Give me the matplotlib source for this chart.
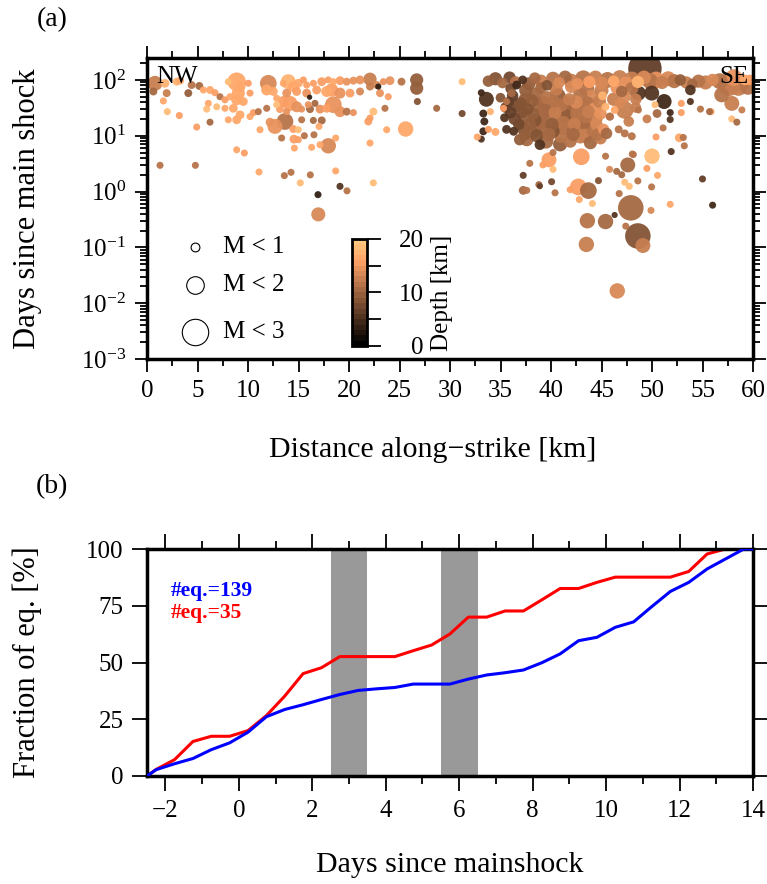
import numpy as np
import matplotlib
matplotlib.use('Agg')
import matplotlib.pyplot as plt
from matplotlib.colors import ListedColormap, Normalize
from matplotlib.cm import ScalarMappable
from matplotlib.ticker import MultipleLocator, LogLocator, NullFormatter

plt.rcParams['font.family'] = ['Liberation Serif', 'DejaVu Serif']
plt.rcParams['mathtext.fontset'] = 'custom'
plt.rcParams['mathtext.rm'] = 'Liberation Serif'
plt.rcParams['mathtext.it'] = 'Liberation Serif:italic'

#--------------------------------------------------------------------------#
# (a) events: distance [km], days, depth [km], magnitude
#--------------------------------------------------------------------------#
nw_dist = [0.79, 1.78, 0.63, 1.95, 2.94, 3.27, 4.42, 5.18, 4.09, 1.62,
           2.01, 3.2, 4.92, 6.24, 6.07, 5.91, 6.9, 5.58, 6.24, 6.73,
           7.23, 8.05, 8.88, 9.04, 8.88, 8.55, 8.88, 8.22, 8.05, 9.21,
           9.54, 10.03, 10.2, 9.21, 7.72, 7.72, 10.2, 10.53, 11.02, 11.85,
           12.01, 11.85, 12.51, 12.84, 12.84, 13.5, 13.99, 14.49, 14.98, 15.48,
           15.81, 16.47, 17.3, 17.95, 18.45, 19.11, 19.77, 20.43, 21.09, 22.08,
           22.74, 23.4, 24.06, 25.2, 26.7, 26.7, 26.77, 13.83, 14.82, 15.81,
           16.8, 17.79, 18.28, 19.11, 20.1, 21.09, 22.08, 23.07, 23.89, 13.5,
           14.16, 14.82, 13.17, 13.83, 15.31, 16.14, 16.63, 17.13, 17.79, 18.45,
           19.11, 19.77, 20.43, 22.41, 22.08, 21.91, 23.56, 28.68, 15.97, 13.66,
           12.67, 12.18, 15.31, 16.47, 17.3, 17.03, 14.49, 14.98, 11.19, 15.58,
           16.53, 13.33, 14.55, 14.98, 14.59, 16.3, 17.13, 17.95, 18.68, 22.08,
           23.73, 25.61, 8.88, 9.64, 1.29, 4.79, 11.09, 13.6, 14.26, 16.17,
           18.68, 15.18, 19.11, 19.8, 16.93, 22.41, 16.96, 31.2, 31.2, 22.9,
           16.1]
nw_days = [87, 87, 62, 58, 93, 97, 81, 78, 58, 42,
           27, 23, 14.3, 17.5, 38, 30, 33, 66, 66, 59,
           50, 93, 93, 58, 44, 31, 19.3, 50, 19.3, 76,
           41, 87, 58, 23.7, 31, 44, 22, 26, 27, 31,
           87, 66, 62, 47, 36, 87, 93, 76, 87, 100,
           81, 87, 93, 100, 93, 97, 93, 97, 100, 103,
           81, 93, 97, 93, 100, 71, 41, 58, 62, 58,
           66, 62, 66, 58, 58, 62, 76, 58, 50, 41,
           38, 33, 30, 27, 30, 30, 38, 30, 31, 36,
           27, 27, 26, 27, 20.7, 18, 31, 31, 36, 18,
           14.7, 17.5, 19.3, 18.8, 18.8, 14.7, 13.2, 12.8, 12.8, 10,
           10.4, 9.1, 8.7, 8.5, 6.0, 6.2, 6.9, 6.6, 9.1, 7.4,
           12.8, 13.2, 5.6, 4.9, 2.95, 2.95, 2.24, 1.93, 2.21, 1.99,
           2.34, 1.43, 1.24, 1.03, 0.88, 1.43, 0.39, 93, 25, 76,
           49]
nw_depth = [12, 17, 10, 12, 17, 16, 11, 10, 9, 16,
            18, 15, 15, 10, 16, 18, 18, 16, 16, 15,
            11, 18, 16, 16, 16, 16, 16, 16, 16, 16,
            16, 15, 15, 16, 16, 15, 16, 15, 11, 11,
            13, 16, 16, 16, 18, 16, 17, 16, 16, 15,
            15, 15, 15, 15, 16, 15, 14, 14, 14, 12,
            13, 14, 14, 11, 9, 9, 8, 14, 15, 14,
            15, 16, 15, 14, 15, 13, 12, 14, 15, 15,
            15, 14, 15, 14, 14, 10, 10, 14, 15, 14,
            14, 11, 14, 18, 15, 15, 11, 10, 14, 11,
            14, 14, 11, 10, 10, 16, 15, 18, 16, 11,
            11, 11, 15, 15, 16, 16, 16, 13, 16, 16,
            16, 16, 16, 15, 11, 11, 16, 11, 11, 11,
            16, 18, 5, 11, 3, 18, 13, 18, 7, 3,
            3]
nw_mag = [1.7, 1.0, 0.9, 0.9, 0.9, 0.9, 0.9, 0.9, 0.9, 0.8,
          0.8, 0.8, 0.8, 0.8, 0.8, 0.8, 0.8, 0.8, 0.9, 0.8,
          0.8, 0.8, 2.1, 1.5, 1.25, 1.0, 1.0, 0.8, 0.8, 1.25,
          1.0, 0.8, 0.8, 1.0, 0.8, 0.8, 0.8, 0.8, 0.8, 0.8,
          1.9, 1.25, 1.0, 0.8, 0.8, 0.8, 1.7, 1.25, 1.0, 0.8,
          0.8, 0.8, 1.0, 0.8, 0.8, 1.0, 0.9, 0.9, 1.0, 1.5,
          0.9, 0.8, 1.0, 0.9, 1.5, 1.5, 0.8, 1.0, 1.0, 1.0,
          1.0, 1.25, 1.5, 1.25, 1.0, 0.9, 0.9, 0.9, 0.8, 1.25,
          1.7, 1.25, 0.9, 0.8, 0.8, 0.9, 0.8, 1.0, 1.0, 1.9,
          1.25, 0.9, 0.8, 0.9, 0.8, 0.9, 0.8, 0.8, 0.8, 1.9,
          1.7, 1.0, 0.8, 0.8, 0.9, 0.8, 0.9, 0.8, 0.8, 0.8,
          0.8, 0.8, 1.0, 0.8, 0.8, 0.8, 0.8, 1.75, 0.8, 0.8,
          0.8, 1.75, 0.8, 0.8, 0.8, 0.8, 0.8, 0.8, 0.8, 0.8,
          0.8, 0.8, 0.8, 0.8, 0.8, 0.8, 1.6, 0.8, 0.8, 0.7,
          0.6]

se_band_dist = [33.8, 34.5, 35.2, 35.9, 36.5, 37.2, 37.8, 38.4, 39.0, 39.6,
                40.2, 40.8, 41.4, 42.0, 42.6, 43.2, 43.8, 44.4, 45.0, 45.6,
                46.2, 46.8, 47.4, 48.0, 48.6, 49.2, 49.8, 50.4, 51.0, 51.6,
                52.2, 52.8, 53.4, 54.0, 54.6, 55.3, 56.0, 56.7, 57.4, 58.1,
                58.8, 59.5, 59.7, 36.0, 37.5, 39.0, 40.5, 42.0, 43.5, 45.0,
                46.5, 48.0, 47.0, 49.3, 48.65, 49.97, 51.2, 33.6, 33.1, 57.6,
                58.55, 57.9, 56.9, 59.2, 36.6]
se_band_days = [95, 105, 88, 110, 92, 100, 85, 108, 95, 80,
                105, 90, 112, 95, 85, 105, 92, 110, 88, 100,
                95, 110, 88, 100, 92, 110, 95, 100, 90, 105,
                95, 100, 90, 85, 95, 90, 100, 95, 85, 110,
                90, 75, 100, 70, 65, 72, 68, 75, 70, 65,
                72, 70, 62, 160, 58, 58, 41, 45, 59, 81,
                76, 38, 54, 100, 81]
se_band_depth = [9, 8, 10, 7, 11, 5, 9, 10, 12, 8,
                 11, 13, 10, 12, 14, 11, 15, 12, 13, 11,
                 16, 12, 14, 12, 17, 13, 11, 14, 12, 13,
                 11, 9, 12, 10, 11, 12, 13, 11, 12, 14,
                 12, 11, 15, 7, 9, 10, 12, 13, 11, 12,
                 14, 11, 10, 6, 5, 5, 4, 5, 4, 12,
                 12, 12, 11, 16, 4]
se_band_mag = [1.3, 1.5, 1.2, 1.4, 1.3, 1.0, 1.5, 1.3, 1.5, 1.2,
               1.6, 1.3, 1.5, 1.7, 1.3, 1.9, 1.4, 1.6, 1.5, 1.8,
               1.3, 1.7, 1.5, 1.9, 1.4, 1.6, 1.8, 1.9, 1.5, 1.7,
               1.6, 1.3, 1.4, 1.2, 1.5, 1.6, 1.4, 1.8, 2.2, 1.9,
               2.0, 1.8, 1.2, 1.2, 1.5, 1.3, 1.5, 1.4, 1.8, 1.6,
               1.4, 1.5, 1.3, 3.8, 1.7, 1.7, 1.7, 1.7, 0.8, 2.5,
               2.1, 1.7, 1.7, 1.2, 1.0]

se_core_dist = [35.0, 36.2, 37.4, 38.5, 39.6, 40.7, 41.8, 42.9, 44.0, 45.1, 46.2, 47.3, 48.4,
                35.5, 36.6, 37.7, 38.8, 39.9, 41.0, 42.1, 43.2, 44.3, 45.4, 46.3, 47.3, 48.4,
                35.4, 36.4, 37.4, 38.4, 39.4, 40.4, 41.4, 42.4, 43.4, 44.4, 45.8, 47.7,
                35.6, 36.3, 37.2, 38.2, 39.2, 40.2, 41.2, 42.2, 43.2, 44.2, 45.2, 46.7, 47.3,
                36.9, 37.6, 38.9, 39.5, 40.9, 41.9, 42.9, 43.9, 44.9, 45.5, 48.0,
                33.3, 33.4, 33.3, 33.1, 32.7, 33.8, 34.5, 34.0, 35.3, 35.6, 36.1,
                35.8, 37.0, 38.1, 39.2, 40.3, 41.4, 42.5, 43.6, 44.8, 46.8,
                36.0, 37.1, 38.2, 39.3, 40.4, 41.5, 42.6, 43.7, 44.9,
                36.8, 37.9, 39.0, 40.1, 41.2, 42.3, 43.4, 44.5,
                37.4, 38.6, 39.8, 41.0, 42.2, 43.4, 44.6]
se_core_days = [48, 52, 45, 55, 48, 52, 45, 55, 48, 52, 45, 50, 45,
                32, 35, 30, 34, 30, 35, 30, 34, 30, 33, 29, 29, 32,
                21, 20, 23, 19, 22, 20, 23, 19, 22, 20, 22, 18,
                13, 12, 14, 12, 14, 12, 14, 12, 14, 12, 13, 13, 11,
                8.5, 8.5, 6.9, 8.0, 7.0, 8.0, 9.7, 7.5, 9.0, 11, 9.8,
                25, 18, 12, 8.7, 9.5, 13, 11.7, 27, 31, 41, 58,
                40, 38, 42, 39, 41, 38, 40, 38, 41, 38,
                26, 27, 25, 27, 26, 27, 25, 27, 25,
                16, 16, 17, 16, 17, 16, 17, 16,
                10.5, 10, 10.5, 10, 10.5, 10, 10.5]
se_core_depth = [8, 6, 9, 10, 11, 9, 12, 11, 13, 17, 12, 13, 12,
                 6, 7, 8, 10, 9, 11, 12, 10, 14, 17, 16, 12, 12,
                 5, 7, 9, 8, 10, 11, 9, 12, 11, 12, 11, 12,
                 5, 5, 8, 9, 10, 8, 11, 10, 12, 11, 14, 11, 11,
                 9, 10, 5, 10, 9, 11, 12, 10, 12, 10, 11,
                 4, 4, 4, 5, 16, 15, 16, 17, 15, 11, 10,
                 6, 8, 9, 10, 11, 10, 13, 11, 12, 13,
                 6, 8, 9, 10, 12, 10, 11, 12, 14,
                 7, 9, 10, 9, 11, 12, 10, 13,
                 9, 8, 10, 11, 10, 12, 11]
se_core_mag = [1.1, 1.3, 1.4, 1.6, 1.5, 1.7, 1.4, 1.6, 1.8, 1.0, 1.5, 1.4, 1.3,
               1.2, 1.5, 1.3, 1.6, 1.7, 1.5, 1.8, 1.6, 1.5, 0.9, 0.9, 2.0, 1.2,
               1.0, 1.4, 1.6, 1.5, 1.7, 1.5, 1.6, 1.8, 1.5, 1.6, 0.9, 1.2,
               1.0, 1.0, 1.5, 1.6, 1.8, 1.5, 1.7, 1.6, 1.8, 1.5, 1.3, 0.9, 0.9,
               1.3, 1.5, 1.2, 1.7, 1.6, 1.5, 1.6, 1.5, 1.4, 1.3, 0.9,
               0.9, 0.9, 0.9, 0.8, 0.8, 0.8, 0.9, 0.8, 0.8, 0.8, 0.9,
               1.2, 1.4, 1.5, 1.6, 1.4, 1.7, 1.5, 1.6, 1.5, 1.2,
               1.3, 1.5, 1.4, 1.6, 1.5, 1.7, 1.6, 1.5, 1.4,
               1.3, 1.5, 1.6, 1.5, 1.6, 1.5, 1.7, 1.4,
               1.4, 1.5, 1.5, 1.6, 1.5, 1.6, 1.4]

se_low_dist = [53.8, 53.8, 54.8, 55.85, 57.9, 58.4, 58.9, 52.9, 52.9, 51.8,
               51.8, 51.1, 50.4, 52.7, 53.1, 53.2, 51.9, 50.0, 48.15, 50.3,
               48.65, 45.85, 55.7, 49.5, 50.5,
               37.9, 37.25, 37.25, 37.6, 38.8, 38.9, 40.06, 40.4, 41.9, 42.7,
               43.7, 42.8, 44.1, 44.7, 45.8, 46.5, 47.0, 47.6, 47.3, 47.75,
               46.75, 48.6, 49.5, 50.55, 49.96, 51.8, 49.9, 47.9, 46.3, 45.4,
               43.6, 47.4, 48.6, 49.1, 43.5, 46.56, 55.0, 56.0, 43.0, 45.4,
               48.05, 40.2, 39.8, 39.2, 40.2]
se_low_days = [66, 41, 30, 27, 20, 17.5, 29, 38, 26, 26,
               19.5, 13.8, 9.5, 9.2, 9.3, 6.6, 5.2, 4.3, 4.6, 36,
               29, 22, 27, 20, 25,
               3.2, 1.95, 1.05, 1.05, 1.33, 1.25, 1.5, 0.95, 1.08, 1.21,
               1.04, 0.72, 0.61, 1.57, 2.5, 2.3, 2.0, 3.0, 1.47, 1.24,
               0.92, 1.55, 2.6, 1.95, 1.21, 0.59, 0.46, 0.51, 0.38, 0.29,
               0.30, 0.24, 0.16, 0.108, 0.113, 0.0166, 1.68, 0.57, 4.2, 4.3,
               4.7, 5.0, 3.7, 3.0, 2.5]
se_low_depth = [5, 5, 11, 16, 18, 10, 12, 15, 15, 4,
                5, 11, 15, 16, 11, 11, 5, 18, 11, 18,
                11, 11, 10, 12, 10,
                11, 6, 10, 11, 10, 6, 7, 11, 15, 15,
                10, 16, 18, 8, 13, 10, 10, 10, 18, 18,
                11, 11, 15, 16, 11, 16, 13, 10, 5, 10,
                11, 11, 8, 12, 12, 13, 6, 4, 15, 11,
                11, 11, 15, 15, 18]
se_low_mag = [1.2, 0.8, 0.8, 0.8, 0.8, 0.8, 0.8, 0.8, 0.8, 0.8,
              0.8, 0.8, 0.8, 1.0, 0.8, 0.8, 0.8, 1.75, 0.8, 0.8,
              0.8, 0.9, 0.8, 1.0, 1.0,
              0.8, 0.8, 1.0, 0.8, 0.8, 0.7, 0.8, 0.8, 0.8, 1.9,
              1.9, 0.8, 0.8, 0.8, 0.8, 0.8, 0.8, 1.7, 0.8, 0.8,
              0.8, 0.8, 0.8, 0.8, 0.8, 0.8, 0.8, 2.9, 0.7, 1.75,
              1.75, 0.8, 2.9, 1.7, 1.75, 1.75, 0.8, 0.8, 1.9, 0.8,
              0.8, 0.8, 1.7, 0.8, 0.8]

legend_mags = [1, 2, 3]
legend_labels = ['M < 1', 'M < 2', 'M < 3']

#--------------------------------------------------------------------------#
# (b) cumulative fraction of events [%]
#--------------------------------------------------------------------------#
blue_days = [-2.5, -2.25, -1.75, -1.25, -0.75, -0.25, 0.25, 0.75, 1.25, 1.75,
             2.25, 2.75, 3.25, 3.75, 4.25, 4.75, 5.25, 5.75, 6.25, 6.75,
             7.25, 7.75, 8.25, 8.75, 9.25, 9.75, 10.25, 10.75, 11.25, 11.75,
             12.25, 12.75, 13.25, 13.75, 14.0]
blue_frac = [0, 2.8, 5.4, 7.7, 11.6, 14.6, 19.3, 26.1, 29.3, 31.4,
             33.7, 35.9, 37.7, 38.4, 39.0, 40.5, 40.5, 40.5, 42.7, 44.5,
             45.5, 46.7, 49.9, 53.8, 59.6, 61.1, 65.5, 67.9, 74.7, 81.3,
             85.3, 91.2, 95.6, 100, 100]
red_days = [-2.5, -2.25, -1.75, -1.25, -0.75, -0.25, 0.25, 0.75, 1.25, 1.75,
            2.25, 2.75, 3.25, 3.75, 4.25, 4.75, 5.25, 5.75, 6.25, 6.75,
            7.25, 7.75, 8.25, 8.75, 9.25, 9.75, 10.25, 10.75, 11.25, 11.75,
            12.25, 12.75, 13.25]
red_frac = [0, 2.9, 7.2, 15.2, 17.5, 17.5, 20.0, 26.6, 35.2, 45.1,
            47.7, 52.6, 52.6, 52.6, 52.6, 55.2, 57.7, 62.6, 70.0, 70.0,
            72.7, 72.7, 77.6, 82.6, 82.6, 85.3, 87.6, 87.6, 87.6, 87.6,
            90.1, 97.8, 100]
gray_spans = [(2.5, 3.5), (5.5, 6.5)]
count_labels = ['#eq.=139', '#eq.=35']
count_colors = ['blue', 'red']


def mag_to_size(m):
    # marker diameter ~ 8.8 px per magnitude unit (dpi 100)
    return (np.asarray(m) * 8.8 * 0.72) ** 2


fig = plt.figure(figsize=(7.67, 8.84), dpi=100)
W, H = 767.0, 884.0
ax1 = fig.add_axes([147 / W, 1 - 359 / H, 606 / W, 301 / H])
ax2 = fig.add_axes([147 / W, 1 - 776 / H, 606 / W, 227 / H])

cmap = ListedColormap(plt.get_cmap('copper')(np.linspace(0, 1, 20)))
norm = Normalize(0, 20)

dist = np.concatenate([nw_dist, se_band_dist, se_core_dist, se_low_dist])
days = np.concatenate([nw_days, se_band_days, se_core_days, se_low_days])
depth = np.concatenate([nw_depth, se_band_depth, se_core_depth, se_low_depth])
mag = np.concatenate([nw_mag, se_band_mag, se_core_mag, se_low_mag])
order = np.argsort(-mag, kind='stable')

ax1.scatter(dist[order], days[order], s=mag_to_size(mag[order]), c=depth[order],
            cmap=cmap, norm=norm, alpha=0.95, edgecolors='none', zorder=2)
ax1.set_yscale('log')
ax1.set_xlim(0, 60)
ax1.set_ylim(1e-3, 247)
ax1.xaxis.set_major_locator(MultipleLocator(5))
ax1.xaxis.set_minor_locator(MultipleLocator(2.5))
ax1.yaxis.set_major_locator(LogLocator(base=10, numticks=12))
ax1.yaxis.set_minor_locator(LogLocator(base=10, subs=np.arange(2, 10), numticks=12))
ax1.yaxis.set_minor_formatter(NullFormatter())
ax1.tick_params(which='both', direction='out', top=True, right=True, width=1.3)
ax1.tick_params(which='major', length=9, labelsize=18, pad=6)
ax1.tick_params(which='minor', length=5)
ax1.set_xlabel('Distance along\u2212strike [km]', fontsize=21.5)
ax1.xaxis.set_label_coords(0.472, -0.259)
ax1.set_ylabel('Days since main shock', fontsize=22)
ax1.yaxis.set_label_coords(-0.173, 0.5)
ax1.text(0.015, 0.975, 'NW', transform=ax1.transAxes, ha='left', va='top', fontsize=18)
ax1.text(0.993, 0.975, 'SE', transform=ax1.transAxes, ha='right', va='top', fontsize=18)

# magnitude legend
leg_y = [0.373, 0.246, 0.091]
for m, lab, y in zip(legend_mags, legend_labels, leg_y):
    ax1.scatter([0.079], [y], s=mag_to_size(m), facecolors='white', edgecolors='black',
                linewidths=0.8, transform=ax1.transAxes, zorder=3)
    ax1.text(0.125, y, lab, transform=ax1.transAxes, ha='left', va='center', fontsize=18)

cax = fig.add_axes([352 / W, 1 - 346 / H, 15 / W, 107 / H])
cb = fig.colorbar(ScalarMappable(norm=norm, cmap=cmap), cax=cax)
cb.outline.set_linewidth(2)
cb.set_ticks([0, 5, 10, 15, 20])
cb.set_ticklabels(['0', '', '10', '', '20'])
cax.tick_params(length=10, width=1.3, labelsize=18, pad=31)
for t in cax.get_yticklabels():
    t.set_ha('right')
cax.set_ylabel('Depth [km]', fontsize=18, labelpad=5)

# (b)
for lo, hi in gray_spans:
    ax2.axvspan(lo, hi, color='#999999', lw=0, zorder=0)
ax2.plot(red_days, red_frac, color='red', lw=2.2, zorder=2)
ax2.plot(blue_days, blue_frac, color='blue', lw=2.2, zorder=3)
ax2.text(-1.85, 81.3, count_labels[0], color=count_colors[0], fontsize=15.5,
         fontweight='bold', va='center', ha='left')
ax2.text(-1.85, 71.7, count_labels[1], color=count_colors[1], fontsize=15.5,
         fontweight='bold', va='center', ha='left')
ax2.set_xlim(-2.5, 14)
ax2.set_ylim(0, 100)
ax2.xaxis.set_major_locator(MultipleLocator(2))
ax2.xaxis.set_minor_locator(MultipleLocator(1))
ax2.yaxis.set_major_locator(MultipleLocator(25))
ax2.tick_params(which='both', direction='out', top=True, right=True, width=1.3)
ax2.tick_params(which='major', length=11, labelsize=18, pad=6)
ax2.tick_params(which='minor', length=6)
ax2.set_xlabel('Days since mainshock', fontsize=21.5)
ax2.xaxis.set_label_coords(0.5, -0.335)
ax2.set_ylabel('Fraction of eq. [%]', fontsize=22)
ax2.yaxis.set_label_coords(-0.173, 0.5)

for ax in (ax1, ax2):
    for sp in ax.spines.values():
        sp.set_linewidth(2.5)

fig.text(52 / W, 1 - 20 / H, '(a)', ha='center', va='center', fontsize=20)
fig.text(52 / W, 1 - 487 / H, '(b)', ha='center', va='center', fontsize=20)

fig.savefig('out.png', dpi=100)
